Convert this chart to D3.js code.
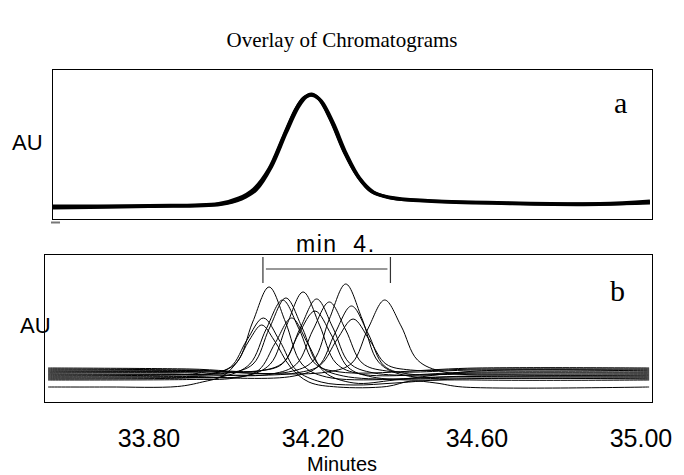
<!DOCTYPE html>
<html lang="en">
  <head>
    <meta charset="utf-8" />
    <title>Overlay of Chromatograms</title>
    <style>
      html,
      body {
        margin: 0;
        background: #fff;
      }

      svg {
        display: block;
      }

      .serif {
        font-family: 'Liberation Serif', 'Times New Roman', serif;
      }

      .sans {
        font-family: 'Liberation Sans', Arial, sans-serif;
      }
    </style>
    <script src="https://d3js.org/d3.v7.min.js"></script>
  </head>
  <body>
    <svg width="684" height="475"></svg>

    <script>
      // tick labels on the time axis (minutes)
      var timeTicks = [33.8, 34.2, 34.6, 35.0];

      // panel a: repeated injections, nearly identical [minutes, AU]
      var topA = [[33.566, 12], [33.80, 13], [33.973, 15], [34.022, 20], [34.058, 29], [34.095, 51],
        [34.131, 85], [34.161, 112], [34.180, 122], [34.197, 125], [34.217, 119], [34.246, 97],
        [34.278, 66], [34.310, 42], [34.344, 27], [34.388, 21], [34.485, 18], [34.656, 16],
        [34.90, 15], [35.022, 16]];
      var topB = [[33.566, 11], [33.80, 12.5], [33.975, 14.5], [34.026, 20], [34.062, 29], [34.099, 52],
        [34.135, 86], [34.165, 112], [34.184, 122], [34.201, 124], [34.221, 118], [34.250, 96],
        [34.282, 65], [34.314, 41], [34.348, 27], [34.392, 21], [34.490, 17.5], [34.660, 15.5],
        [34.90, 14.5], [35.022, 17]];
      var topC = [[33.566, 13], [33.80, 13.5], [33.970, 15.5], [34.019, 21], [34.055, 30], [34.092, 50],
        [34.128, 83], [34.158, 110], [34.177, 121], [34.194, 124], [34.214, 120], [34.243, 99],
        [34.275, 68], [34.307, 44], [34.341, 28], [34.385, 22], [34.480, 18.5], [34.650, 16.5],
        [34.90, 15.5], [35.022, 18]];

      // panel b: shifted retention times [minutes, AU]
      var b1 = [[33.554, 28], [33.85, 28], [33.953, 28], [34.013, 39], [34.053, 80], [34.093, 115],
        [34.133, 80], [34.173, 38], [34.233, 25], [34.6, 26], [35.02, 26]];
      var b2 = [[33.554, 30], [33.90, 30], [33.994, 29], [34.054, 38], [34.094, 74], [34.134, 104],
        [34.174, 74], [34.214, 37], [34.274, 26], [34.6, 24], [35.02, 24]];
      var b3 = [[33.554, 25], [33.90, 25.5], [34.036, 26], [34.096, 38], [34.136, 77], [34.176, 110],
        [34.216, 77], [34.256, 39], [34.316, 28], [34.6, 30], [35.02, 30]];
      var b4 = [[33.554, 32], [33.90, 31.5], [34.069, 31], [34.129, 40], [34.169, 74], [34.209, 103],
        [34.249, 74], [34.289, 39], [34.349, 29], [34.6, 28], [35.02, 28]];
      var b5 = [[33.554, 27], [33.90, 27.5], [34.10, 28], [34.16, 38], [34.20, 72], [34.24, 100],
        [34.28, 72], [34.32, 39], [34.38, 31], [34.6, 32], [35.02, 32]];
      var b6 = [[33.554, 33], [33.90, 32], [34.14, 30], [34.20, 41], [34.24, 83], [34.28, 118],
        [34.32, 83], [34.36, 40], [34.42, 27], [34.6, 25.5], [35.02, 25]];
      var b7 = [[33.554, 31], [33.90, 30.5], [34.235, 30], [34.295, 39], [34.335, 74], [34.375, 102],
        [34.415, 76], [34.455, 42], [34.52, 30], [34.7, 27], [35.02, 27]];
      var b8 = [[33.554, 24], [33.90, 24.5], [34.154, 26], [34.214, 36], [34.254, 69], [34.294, 96],
        [34.334, 69], [34.374, 36], [34.434, 28], [34.6, 29], [35.02, 29]];
      var b9 = [[33.554, 26], [33.90, 27], [34.158, 29], [34.218, 37], [34.258, 62], [34.298, 83],
        [34.338, 62], [34.378, 38], [34.438, 32], [34.6, 33], [35.02, 33]];
      var b10 = [[33.554, 29], [33.90, 29], [33.939, 28], [33.999, 35], [34.039, 62], [34.079, 84],
        [34.119, 61], [34.159, 32], [34.22, 20], [34.30, 17], [34.40, 19], [34.55, 23], [35.02, 23]];
      var b11 = [[33.554, 15], [33.70, 15], [33.87, 15.5], [33.93, 20], [33.98, 26], [34.015, 40],
        [34.045, 62], [34.075, 77], [34.105, 62], [34.145, 35], [34.19, 20], [34.26, 15],
        [34.38, 15.5], [34.44, 21], [34.50, 19], [34.565, 15], [35.02, 15]];
      var b12 = [[33.554, 22], [33.90, 22.5], [34.008, 24], [34.068, 32], [34.108, 59], [34.148, 84],
        [34.188, 58], [34.228, 30], [34.30, 19], [34.40, 22], [34.6, 31], [35.02, 31]];
      var b13 = [[33.554, 34], [33.90, 33], [34.065, 31], [34.125, 38], [34.165, 68], [34.205, 91],
        [34.245, 67], [34.285, 35], [34.345, 25], [34.6, 22], [35.02, 22]];
      var b14 = [[33.554, 23], [33.90, 24], [33.986, 26], [34.046, 38], [34.086, 73], [34.126, 102],
        [34.166, 73], [34.206, 38], [34.266, 30], [34.6, 34], [35.02, 34]];

      var topTraces = [topA, topB, topC];
      var bottomTraces = [b1, b2, b3, b4, b5, b6, b7, b8, b9, b10, b11, b12, b13, b14];

      // spread of retention times marked over panel b
      var spreadTimes = [34.078, 34.389];

      var svg = d3.select('svg');

      var x = d3.scaleLinear().domain([33.544, 35.027]).range([44, 652]);
      var yA = d3.scaleLinear().domain([0, 150]).range([219, 69]);
      var yB = d3.scaleLinear().domain([0, 150]).range([402, 252]);

      var lineA = d3.line()
        .curve(d3.curveCatmullRom)
        .x(function(d) { return x(d[0]); })
        .y(function(d) { return yA(d[1]); });

      var lineB = d3.line()
        .curve(d3.curveCatmullRom)
        .x(function(d) { return x(d[0]); })
        .y(function(d) { return yB(d[1]); });

      // title
      svg.append('text')
        .attr('class', 'serif')
        .attr('x', 342)
        .attr('y', 47)
        .attr('text-anchor', 'middle')
        .attr('font-size', 21)
        .text('Overlay of Chromatograms');

      // panel a frame
      svg.append('rect')
        .attr('x', 52.5)
        .attr('y', 69.5)
        .attr('width', 600)
        .attr('height', 150)
        .attr('fill', 'none')
        .attr('stroke', '#000')
        .attr('stroke-width', 1);

      svg.append('line')
        .attr('x1', 51).attr('x2', 60)
        .attr('y1', 222.5).attr('y2', 222.5)
        .attr('stroke', '#777')
        .attr('stroke-width', 2);

      svg.append('g')
        .attr('fill', 'none')
        .attr('stroke', '#000')
        .attr('stroke-width', 3)
        .attr('stroke-linejoin', 'round')
        .selectAll('path')
        .data(topTraces)
        .enter().append('path')
        .attr('d', lineA);

      svg.append('text')
        .attr('class', 'sans')
        .attr('x', 12)
        .attr('y', 150)
        .attr('font-size', 22)
        .text('AU');

      svg.append('text')
        .attr('class', 'serif')
        .attr('x', 614)
        .attr('y', 113)
        .attr('font-size', 30)
        .text('a');

      // panel b frame
      svg.append('rect')
        .attr('x', 44.5)
        .attr('y', 254.5)
        .attr('width', 608)
        .attr('height', 148)
        .attr('fill', 'none')
        .attr('stroke', '#000')
        .attr('stroke-width', 1);

      svg.append('g')
        .attr('fill', 'none')
        .attr('stroke', '#000')
        .attr('stroke-width', 1)
        .attr('stroke-linejoin', 'round')
        .selectAll('path')
        .data(bottomTraces)
        .enter().append('path')
        .attr('d', lineB);

      // bracket over the peaks
      var bracket = svg.append('g')
        .attr('stroke', '#333')
        .attr('stroke-width', 1.2);

      bracket.selectAll('line.v')
        .data(spreadTimes)
        .enter().append('line')
        .attr('class', 'v')
        .attr('x1', function(d) { return x(d); })
        .attr('x2', function(d) { return x(d); })
        .attr('y1', yB(145))
        .attr('y2', yB(119));

      bracket.append('line')
        .attr('x1', x(spreadTimes[0]) + 3)
        .attr('x2', x(spreadTimes[1]) - 3)
        .attr('y1', yB(133))
        .attr('y2', yB(133));

      svg.append('text')
        .attr('class', 'sans')
        .attr('x', 296)
        .attr('y', 252)
        .attr('font-size', 23)
        .attr('letter-spacing', 1.5)
        .attr('xml:space', 'preserve')
        .text('min  4.');

      svg.append('text')
        .attr('class', 'sans')
        .attr('x', 20)
        .attr('y', 333)
        .attr('font-size', 22)
        .text('AU');

      svg.append('text')
        .attr('class', 'serif')
        .attr('x', 610)
        .attr('y', 301)
        .attr('font-size', 30)
        .text('b');

      // time axis labels
      svg.append('g')
        .attr('class', 'sans')
        .attr('font-size', 25)
        .attr('text-anchor', 'middle')
        .selectAll('text')
        .data(timeTicks)
        .enter().append('text')
        .attr('x', function(d) { return x(d); })
        .attr('y', 447)
        .text(function(d) { return d3.format('.2f')(d); });

      svg.append('text')
        .attr('class', 'sans')
        .attr('x', 342)
        .attr('y', 471)
        .attr('text-anchor', 'middle')
        .attr('font-size', 20)
        .text('Minutes');
    </script>
  </body>
</html>
